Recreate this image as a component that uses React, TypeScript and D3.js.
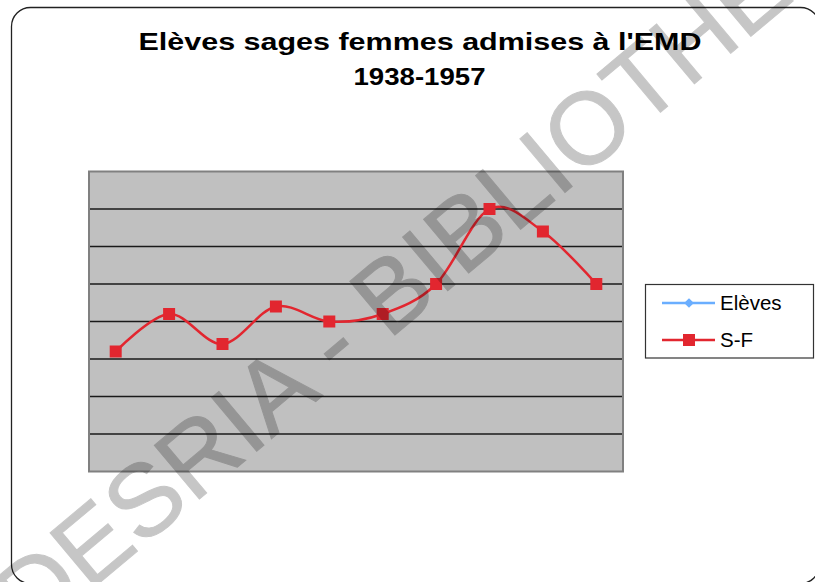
import React, { useRef, useEffect } from 'react';
import * as d3 from 'd3';

// periods (2-year steps, 1938-1957) - no axis labels are shown on the chart
const periods = ['1938', '1940', '1942', '1944', '1946', '1948', '1950', '1952', '1954', '1956'];
const sageFemmes = [16, 21, 17, 22, 20, 21, 25, 35, 32, 25];
const eleves: number[] = [];
const yTicks = [5, 10, 15, 20, 25, 30, 35];
const legendLabels = ['Elèves', 'S-F'];

const App = () => {
    const svgRef = useRef<SVGSVGElement>(null);

    const width = 815;
    const height = 582;
    const plot = { left: 89, right: 623, top: 171.5, bottom: 471.5 };

    useEffect(() => {
        const svg = d3.select(svgRef.current);
        svg.selectAll('*').remove();

        // outer chart frame
        svg.append('rect')
            .attr('x', 11.5)
            .attr('y', 7.5)
            .attr('width', 808)
            .attr('height', 576)
            .attr('rx', 19)
            .attr('fill', 'white')
            .attr('stroke', '#222')
            .attr('stroke-width', 1.3);

        const title = svg.append('g')
            .attr('font-family', 'Liberation Sans, Arial, sans-serif')
            .attr('font-weight', 'bold')
            .attr('font-size', 24.5)
            .attr('fill', '#000');
        title.append('text')
            .attr('x', 138.5)
            .attr('y', 49.5)
            .attr('textLength', 563)
            .attr('lengthAdjust', 'spacingAndGlyphs')
            .text("Elèves sages femmes admises à l'EMD");
        title.append('text')
            .attr('x', 353.5)
            .attr('y', 84.5)
            .attr('textLength', 132)
            .attr('lengthAdjust', 'spacingAndGlyphs')
            .text('1938-1957');

        const x = d3.scaleBand<string>().domain(periods).range([plot.left, plot.right]);
        const y = d3.scaleLinear().domain([0, 40]).range([plot.bottom, plot.top]);
        const cx = (d: string) => (x(d) ?? 0) + x.bandwidth() / 2;

        svg.append('rect')
            .attr('x', plot.left)
            .attr('y', plot.top)
            .attr('width', plot.right - plot.left)
            .attr('height', plot.bottom - plot.top)
            .attr('fill', '#c0c0c0');

        svg.append('g')
            .selectAll('line')
            .data(yTicks)
            .join('line')
            .attr('x1', plot.left)
            .attr('x2', plot.right)
            .attr('y1', d => y(d))
            .attr('y2', d => y(d))
            .attr('stroke', '#1a1a1a')
            .attr('stroke-width', 1.4);

        svg.append('rect')
            .attr('x', plot.left)
            .attr('y', plot.top)
            .attr('width', plot.right - plot.left)
            .attr('height', plot.bottom - plot.top)
            .attr('fill', 'none')
            .attr('stroke', '#808080')
            .attr('stroke-width', 2);

        const line = d3.line<number>()
            .x((d, i) => cx(periods[i]))
            .y(d => y(d))
            .curve(d3.curveCardinal.tension(0));

        svg.append('path')
            .datum(eleves)
            .attr('d', line)
            .attr('fill', 'none')
            .attr('stroke', '#6aaeff')
            .attr('stroke-width', 2.5);

        svg.append('path')
            .datum(sageFemmes)
            .attr('d', line)
            .attr('fill', 'none')
            .attr('stroke', '#e2262f')
            .attr('stroke-width', 2.5);

        svg.append('g')
            .selectAll('rect')
            .data(sageFemmes)
            .join('rect')
            .attr('x', (d, i) => cx(periods[i]) - 6)
            .attr('y', d => y(d) - 6)
            .attr('width', 12)
            .attr('height', 12)
            .attr('fill', '#e2262f');

        // legend
        const legend = svg.append('g');
        legend.append('rect')
            .attr('x', 645.5)
            .attr('y', 284.5)
            .attr('width', 168)
            .attr('height', 73.5)
            .attr('fill', 'white')
            .attr('stroke', '#333')
            .attr('stroke-width', 1.2);

        const colors = ['#6aaeff', '#e2262f'];
        legendLabels.forEach((label, i) => {
            const ly = 303 + i * 37;
            legend.append('line')
                .attr('x1', 662)
                .attr('x2', 715)
                .attr('y1', ly)
                .attr('y2', ly)
                .attr('stroke', colors[i])
                .attr('stroke-width', 2.5);
            if (i === 0) {
                legend.append('path')
                    .attr('d', d3.symbol(d3.symbolDiamond2, 60)())
                    .attr('transform', `translate(689,${ly})`)
                    .attr('fill', colors[i]);
            } else {
                legend.append('rect')
                    .attr('x', 683)
                    .attr('y', ly - 6)
                    .attr('width', 12)
                    .attr('height', 12)
                    .attr('fill', colors[i]);
            }
            legend.append('text')
                .attr('x', 720)
                .attr('y', ly + 7)
                .attr('font-family', 'Liberation Sans, Arial, sans-serif')
                .attr('font-size', 20.5)
                .attr('fill', '#000')
                .text(label);
        });

        // watermark
        svg.append('g')
            .attr('opacity', 0.22)
            .append('text')
            .attr('transform', 'translate(418,270) rotate(-40)')
            .attr('text-anchor', 'middle')
            .attr('dominant-baseline', 'central')
            .attr('font-family', 'Liberation Sans, Arial, sans-serif')
            .attr('font-size', 102)
            .attr('fill', '#000')
            .attr('stroke', '#000')
            .attr('stroke-width', 1)
            .text('CODESRIA - BIBLIOTHEQUE');
    }, []);

    return (
        <svg
            ref={svgRef}
            width={width}
            height={height}
            style={{ position: 'absolute', left: 0, top: 0 }}
        ></svg>
    );
};

export default App;
